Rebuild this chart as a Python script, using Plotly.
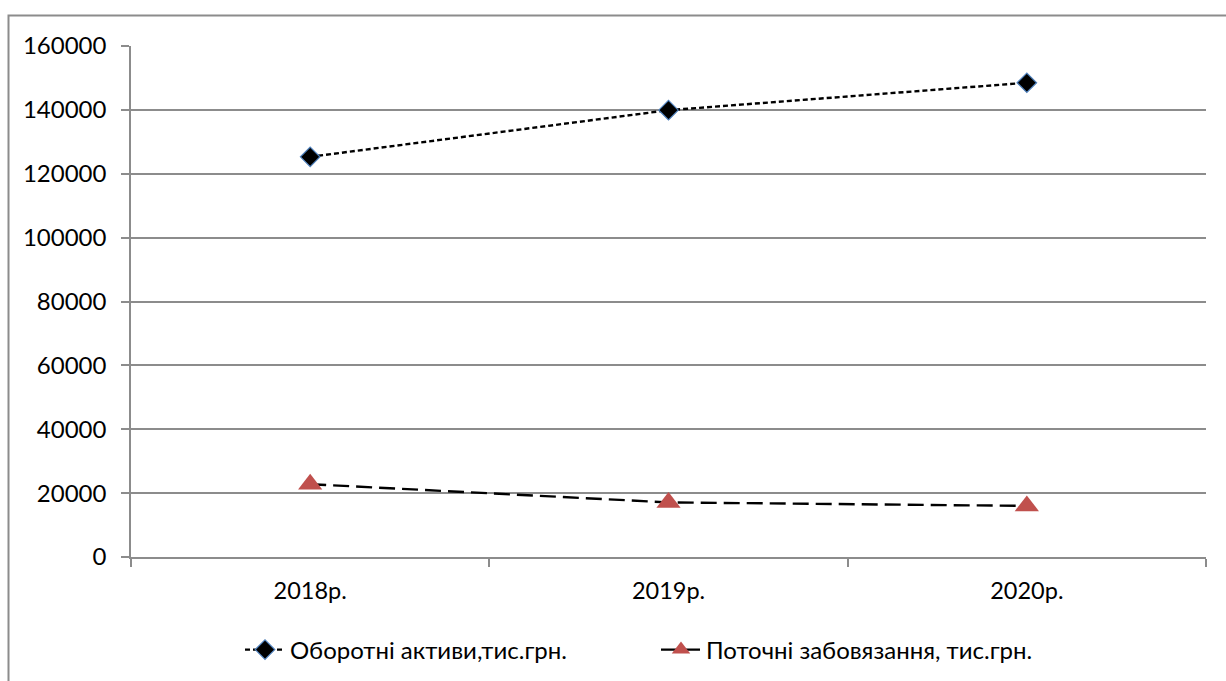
import plotly.graph_objects as go

years = ["2018р.", "2019р.", "2020р."]
current_assets = [125300, 139900, 148500]
current_liabilities = [22800, 17100, 16000]
y_ticks = [0, 20000, 40000, 60000, 80000, 100000, 120000, 140000, 160000]

GRID = "#8c8c8c"
FONT = "Lato"
W, H = 1226, 681

fig = go.Figure()

fig.add_trace(go.Scatter(
    x=years, y=current_assets, mode="lines+markers",
    name="Оборотні активи,тис.грн.", legend="legend",
    line=dict(color="black", width=2.4, dash="5px,3px"),
    marker=dict(symbol="diamond", size=15, color="black",
                line=dict(color="#4f81bd", width=1.2)),
))

fig.add_trace(go.Scatter(
    x=years, y=current_liabilities, mode="lines+markers",
    name="Поточні забовязання, тис.грн.", legend="legend2",
    line=dict(color="black", width=2.4, dash="16px,7px"),
    marker=dict(symbol="triangle-up", size=21, color="#c0504d",
                line=dict(width=0)),
))

legend_common = dict(orientation="h", xref="container", yref="container",
                     y=(H - 650) / H, xanchor="left", yanchor="middle",
                     font=dict(family=FONT, size=24), itemwidth=40,
                     bgcolor="rgba(0,0,0,0)")

fig.update_layout(
    width=W, height=H,
    margin=dict(l=131, r=20, t=46, b=124, autoexpand=False),
    paper_bgcolor="white", plot_bgcolor="white",
    font=dict(family=FONT, size=24, color="black"),
    showlegend=True,
    legend=dict(x=240 / W, **legend_common),
    legend2=dict(x=656 / W, **legend_common),
    xaxis=dict(
        type="category", categoryorder="array", categoryarray=years,
        range=[-0.5, 2.5], showgrid=False, zeroline=False, automargin=False,
        showline=True, linecolor=GRID, linewidth=1.5,
        ticks="outside", tickson="boundaries", ticklen=8, tickcolor=GRID,
        tickwidth=1.5, tickfont=dict(family=FONT, size=23.5), ticklabelstandoff=12,
    ),
    yaxis=dict(
        range=[0, 160000], tickvals=y_ticks, ticktext=[str(v) for v in y_ticks],
        showgrid=True, gridcolor=GRID, gridwidth=1.5, zeroline=False, automargin=False,
        showline=True, linecolor=GRID, linewidth=1.5,
        ticks="outside", ticklen=8, tickcolor=GRID, tickwidth=1.5,
        tickfont=dict(family=FONT, size=24), ticklabelstandoff=10,
    ),
)

# chart frame (top and left edges visible)
plot_w, plot_h = W - 131 - 20, H - 46 - 124
fig.add_shape(type="rect", xref="paper", yref="paper",
              x0=(8.5 - 131) / plot_w, x1=(1240 - 131) / plot_w,
              y0=(557 - 700) / plot_h, y1=(557 - 15.5) / plot_h,
              line=dict(color="#8c8c8c", width=2), layer="below")

fig.write_html("out.html")
